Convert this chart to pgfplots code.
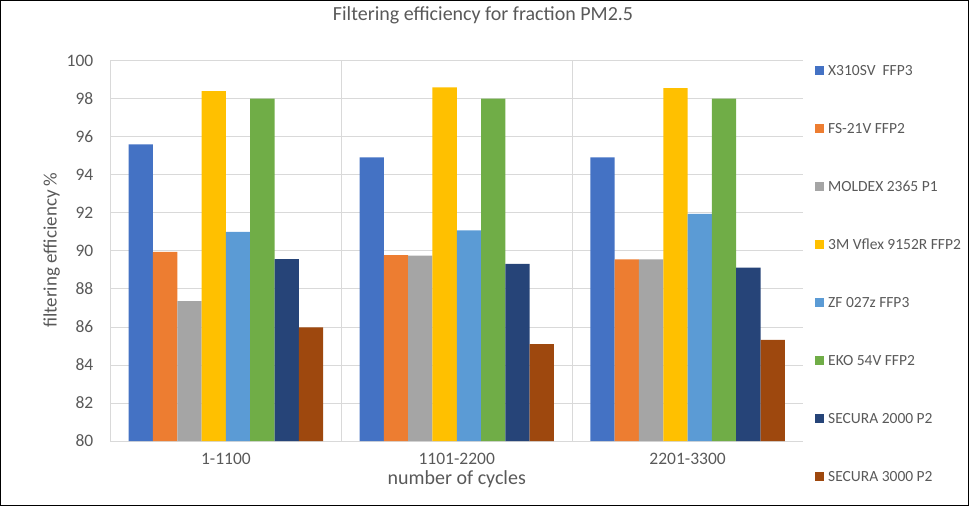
\documentclass[border=0pt]{standalone}
\usepackage{fontspec}
\setmainfont{Carlito}
\usepackage{pgfplots}
\pgfplotsset{compat=1.18}
\definecolor{c1}{HTML}{4472C4}
\definecolor{c2}{HTML}{ED7D31}
\definecolor{c3}{HTML}{A5A5A5}
\definecolor{c4}{HTML}{FFC000}
\definecolor{c5}{HTML}{5B9BD5}
\definecolor{c6}{HTML}{70AD47}
\definecolor{c7}{HTML}{264478}
\definecolor{c8}{HTML}{9E480E}
\definecolor{txt}{HTML}{595959}
\definecolor{gridc}{HTML}{D9D9D9}
\begin{document}
\begin{tikzpicture}
\begin{axis}[
  scale only axis, width=692.5pt, height=380.3pt,
  ymin=80, ymax=100, ytick={80,82,...,100},
  xmin=-0.5, xmax=2.5, xtick={0,1,2},
  xticklabels={1-1100,1101-2200,2201-3300},
  extra x ticks={-0.5,0.5,1.5}, extra x tick labels={},
  extra x tick style={grid=major},
  ymajorgrids, major grid style={gridc, line width=0.8pt},
  axis line style={draw=none},
  major tick length=0pt,
  /pgf/number format/assume math mode=true,
  ticklabel style={font=\fontsize{17.5}{20}\selectfont, text=txt},
  yticklabel style={inner sep=0pt, anchor=east, xshift=-17pt},
  xticklabel style={inner sep=0pt, anchor=north, yshift=-12pt},
  title={Filtering efficiency for fraction PM2.5},
  title style={at={(0.538,1.091)}, anchor=base, inner sep=0pt, font=\fontsize{20}{23}\selectfont, text=txt},
  xlabel={number of cycles},
  xlabel style={at={(0.5,-0.114)}, anchor=base, inner sep=0pt, font=\fontsize{20}{23}\selectfont, text=txt},
  ylabel={filtering efficiency \%},
  ylabel style={at={(-0.0849,0.502)}, anchor=center, inner sep=0pt, font=\fontsize{19}{22}\selectfont, text=txt},
  ybar=0pt, bar width=0.1053,
  legend cell align=left,
  legend image code/.code={\fill[#1] (0pt,-4.5pt) rectangle (9pt,4.5pt);},
  legend style={at={(1.0173,0.9887)}, anchor=north west, draw=none, fill=none,
    inner sep=0pt, row sep=48.1pt, column sep=4pt,
    nodes={inner sep=0pt, text height=10pt, text depth=0pt, font=\fontsize{15.5}{18}\selectfont, text=txt}},
]
\addplot[fill=c1, draw=none] coordinates {(0,95.6) (1,94.92) (2,94.92)};
\addplot[fill=c2, draw=none] coordinates {(0,89.95) (1,89.78) (2,89.55)};
\addplot[fill=c3, draw=none] coordinates {(0,87.35) (1,89.75) (2,89.55)};
\addplot[fill=c4, draw=none] coordinates {(0,98.4) (1,98.6) (2,98.56)};
\addplot[fill=c5, draw=none] coordinates {(0,91.0) (1,91.08) (2,91.95)};
\addplot[fill=c6, draw=none] coordinates {(0,98.0) (1,98.0) (2,98.0)};
\addplot[fill=c7, draw=none] coordinates {(0,89.57) (1,89.32) (2,89.12)};
\addplot[fill=c8, draw=none] coordinates {(0,85.98) (1,85.1) (2,85.32)};
\legend{X310SV\ \ FFP3, FS-21V FFP2, MOLDEX 2365 P1, 3M Vflex 9152R FFP2, ZF 027z FFP3, EKO 54V FFP2, SECURA 2000 P2, SECURA 3000 P2}
\end{axis}
\draw[black, line width=1pt] (-110pt,-64.5pt) rectangle (858pt,440.5pt);
\end{tikzpicture}
\end{document}
